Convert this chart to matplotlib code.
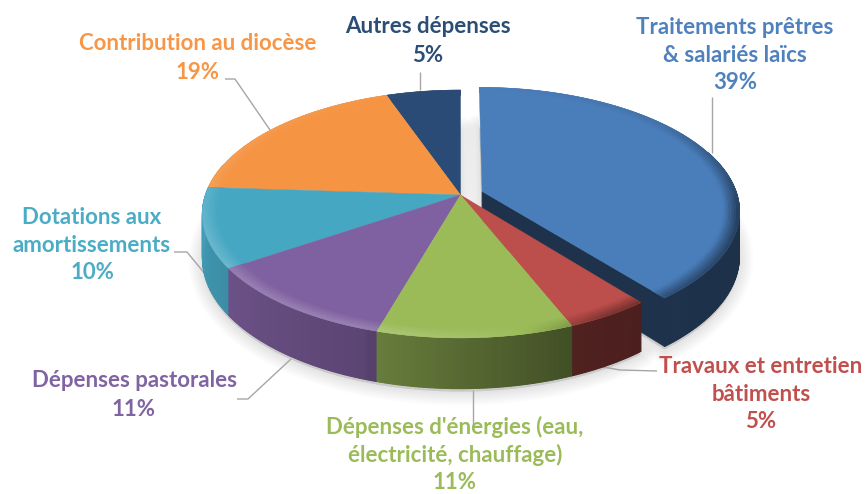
#!/usr/bin/env python3
"""3D style pie of parish spending, drawn in pixel coordinates."""

import numpy as np
import matplotlib
matplotlib.use('Agg')
import matplotlib.pyplot as plt
from matplotlib.collections import PolyCollection
from matplotlib.colors import to_rgb

# clockwise from 12 o'clock
values = [39.3, 4.6, 10.6, 11.1, 10.4, 18.6, 5.4]
labels = [
    'Traitements prêtres\n& salariés laïcs\n39%',
    'Travaux et entretien\nbâtiments\n5%',
    "Dépenses d'énergies (eau,\nélectricité, chauffage)\n11%",
    'Dépenses pastorales\n11%',
    'Dotations aux\namortissements\n10%',
    'Contribution au diocèse\n19%',
    'Autres dépenses\n5%',
]
top_colors = ['#4A7EBB', '#BC4E4B', '#9BBB59', '#7F60A0', '#46A7C3', '#F59443', '#2A4B75']
text_colors = ['#4F81BD', '#C0504D', '#9BBB59', '#8064A2', '#4BACC6', '#F79646', '#2C4D75']
label_pos = [(735, 55), (761, 394), (455, 454), (134, 395), (92, 245), (198, 58), (428, 41)]
label_spacing = [1.38, 1.38, 1.34, 1.42, 1.38, 1.42, 1.42]
leaders = [
    [(712, 97), (712, 153)],
    [(603, 367), (620, 370), (657, 371)],
    [(473, 390), (473, 427)],
    [(291, 359), (248, 399), (237, 399)],
    [(210, 280), (187, 252), (174, 252)],
    [(270, 130), (235, 79), (225, 79)],
    [(420, 90), (420, 72)],
]
explode = [0.09, 0, 0, 0, 0, 0, 0]

# projection of the pie plane
CX, CY = 460.5, 195
RX, RY = 255, 121
PERSP = 0.153
DEPTH = 43


def project(u, v, drop=0.0):
    w = 1 + PERSP * v
    return CX + RX * u / w, CY - RY * v / w + drop * DEPTH / w


def side_shade(a):
    # a is the clockwise angle from the top in degrees
    return np.interp(a, [0, 70, 140, 158, 198, 199, 238, 270, 360],
                     [.38, .38, .40, .42, .68, .72, .85, .95, .95])


def rim_shade(a):
    # >0 lighter, <0 darker on the outer rim of the top face
    return np.interp(a, [0, 50, 75, 100, 150, 170, 200, 250, 280, 360],
                     [0, -.1, -.3, -.55, -.35, .05, .22, .2, .1, 0])


def mix(col, s):
    col = np.array(col)
    return col + (1 - col) * s if s > 0 else col * (1 + s)


fig = plt.figure(figsize=(8.67, 4.94), dpi=100)
ax = fig.add_axes([0, 0, 1, 1])
ax.set_xlim(0, 867)
ax.set_ylim(494, 0)
ax.axis('off')

edges = np.cumsum([0] + values) * 3.6
slices = []
for i in range(len(values)):
    a0, a1 = edges[i], edges[i + 1]
    mid = np.radians((a0 + a1) / 2)
    ox, oy = explode[i] * np.sin(mid), explode[i] * np.cos(mid)
    ang = np.linspace(a0, a1, max(int(a1 - a0) * 2, 8))
    slices.append((i, ang, ox, oy))


def outline(ang, ox, oy, drop):
    t = np.radians(ang)
    return project(np.sin(t) + ox, np.cos(t) + oy, drop)


# soft shadow below the pie
for k in range(9, 0, -1):
    for i, ang, ox, oy in [slices[0]] + [(1, np.linspace(edges[1], 360, 400), 0, 0)]:
        x, y = outline(ang, ox, oy, 1)
        cx, cy = project(ox, oy, 1)
        ax.fill(np.r_[cx, x], np.r_[cy, y] + 3, fc=(0, 0, 0, .012), ec=(0, 0, 0, .012),
                lw=k * 2.2, joinstyle='round', zorder=1)


def draw_slice(i, ang, ox, oy, z):
    base = to_rgb(top_colors[i])
    ax_, ay_ = project(ox, oy)
    bx_, by_ = project(ox, oy, 1)
    x0, y0 = outline(ang, ox, oy, 0)
    x1, y1 = outline(ang, ox, oy, 1)
    # only the exploded slice shows a cut face
    if explode[i] > 0:
        ax.fill([ax_, x0[-1], x1[-1], bx_], [ay_, y0[-1], y1[-1], by_],
                color=mix(base, .4 - 1), lw=.5, zorder=z)
    # outer wall, the back part is hidden by the top face anyway
    quads, cols = [], []
    for j in range(len(ang) - 1):
        a = (ang[j] + ang[j + 1]) / 2
        if a < 70 or a > 285:
            continue
        quads.append([(x0[j], y0[j]), (x0[j + 1], y0[j + 1]), (x1[j + 1], y1[j + 1]), (x1[j], y1[j])])
        cols.append(mix(base, side_shade(a) - 1))
    if quads:
        ax.add_collection(PolyCollection(quads, facecolors=cols, edgecolors=cols, linewidths=.8, zorder=z + 1))
    # top face
    ax.fill(np.r_[ax_, x0], np.r_[ay_, y0], color=base, lw=.3, zorder=z + 2)
    # bevel along the rim
    rings = np.linspace(.94, 1, 7)
    quads, cols = [], []
    t = np.radians(ang)
    for r0, r1 in zip(rings[:-1], rings[1:]):
        s = ((r0 + r1) / 2 - .94) / .06
        xa, ya = project(r0 * np.sin(t) + ox, r0 * np.cos(t) + oy)
        xb, yb = project(r1 * np.sin(t) + ox, r1 * np.cos(t) + oy)
        for j in range(len(ang) - 1):
            quads.append([(xa[j], ya[j]), (xa[j + 1], ya[j + 1]), (xb[j + 1], yb[j + 1]), (xb[j], yb[j])])
            cols.append(mix(base, rim_shade((ang[j] + ang[j + 1]) / 2) * s))
    ax.add_collection(PolyCollection(quads, facecolors=cols, edgecolors=cols, linewidths=.4, zorder=z + 3))


# exploded slice first, the rest on top of it. back slices before front ones
order = [0, 6, 5, 4, 3, 1, 2]
for n, idx in enumerate(order):
    i, ang, ox, oy = slices[idx]
    draw_slice(i, ang, ox, oy, 2 + n * 4)

for pts in leaders:
    xs, ys = zip(*pts)
    ax.plot(xs, ys, color='#A6A6A6', lw=1, zorder=1.5, solid_capstyle='butt')

for txt, pos, col, ls in zip(labels, label_pos, text_colors, label_spacing):
    ax.text(pos[0], pos[1], txt, color=col, ha='center', va='center', family='Lato',
            fontweight='bold', fontsize=16, linespacing=ls, zorder=50)

plt.savefig('out.png', dpi=100)
